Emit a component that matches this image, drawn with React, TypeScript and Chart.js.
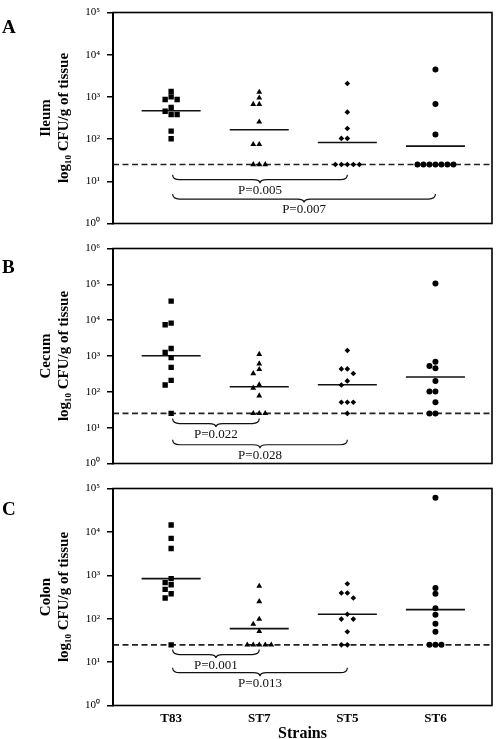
import React, { useEffect, useRef } from 'react';
import { Chart, registerables } from 'chart.js';

Chart.register(...registerables);

// ---------- data ----------
const strains = ['T83', 'ST7', 'ST5', 'ST6'];
const detectionLimit = 25;

// Panel A — Ileum (CFU/g)
const ileumT83 = [1340, 1000, 870, 870, 560, 457, 383, 383, 155, 102];
const ileumST7 = [1300, 950, 670, 670, 257, 75, 75, 25, 25, 25];
const ileumST5 = [2080, 435, 179, 104, 104, 25, 25, 25, 25, 25];
const ileumST6 = [4470, 680, 129, 25, 25, 25, 25, 25, 25, 25];
const ileumMedians = [470, 166, 83, 68];
const ileumPairs = [[0, 2], [0, 3]];
const ileumPValues = ['P=0.005', 'P=0.007'];
const ileumBraceLevels = [10.9, 3.8];

// Panel B — Cecum
const cecumT83 = [34000, 8300, 7450, 1620, 1260, 900, 480, 208, 155, 25];
const cecumST7 = [1120, 610, 425, 325, 158, 128, 78, 25, 25, 25];
const cecumST5 = [1420, 437, 437, 325, 202, 155, 51, 51, 51, 25];
const cecumST6 = [106000, 690, 530, 455, 202, 102, 102, 51, 25, 25];
const cecumMedians = [1020, 138, 158, 259];
const cecumPairs = [[0, 1], [0, 2]];
const cecumPValues = ['P=0.022', 'P=0.028'];
const cecumBraceLevels = [13.0, 3.34];

// Panel C — Colon
const colonT83 = [14400, 7100, 4150, 840, 680, 605, 475, 375, 300, 25];
const colonST7 = [565, 250, 98, 75, 51, 25, 25, 25, 25, 25];
const colonST5 = [640, 390, 390, 300, 127, 98, 98, 50, 25, 25];
const colonST6 = [61000, 510, 375, 173, 123, 76, 50, 25, 25, 25];
const colonMedians = [840, 59, 127, 162];
const colonPairs = [[0, 1], [0, 2]];
const colonPValues = ['P=0.001', 'P=0.013'];
const colonBraceLevels = [14.9, 5.7];

// ---------- styling ----------
const SERIF = "'Liberation Serif', 'Times New Roman', Times, serif";
const markerStyles = ['rect', 'triangle', 'rectRot', 'circle'];
const markerRadii = [3.8, 3.4, 2.8, 3.0];
const X_MIN = -0.66;
const X_MAX = 3.642;
const SLOT = 0.068;
const SUP = ['⁰', '¹', '²', '³', '⁴', '⁵', '⁶', '⁷', '⁸', '⁹'];

type PanelDef = {
  letter: string;
  organ: string;
  series: number[][];
  medians: number[];
  pairs: number[][];
  pvalues: string[];
  levels: number[];
  maxExp: number;
  top: number;
  height: number;
  padTop: number;
  padBottom: number;
  showX: boolean;
  dodgeThr: number;
  letterBaseline: number;
};

const panels: PanelDef[] = [
  {
    letter: 'A', organ: 'Ileum',
    series: [ileumT83, ileumST7, ileumST5, ileumST6],
    medians: ileumMedians, pairs: ileumPairs, pvalues: ileumPValues, levels: ileumBraceLevels,
    maxExp: 5, top: 0, height: 236, padTop: 6, padBottom: 9.3, showX: false, dodgeThr: 0.125,
    letterBaseline: 33.3,
  },
  {
    letter: 'B', organ: 'Cecum',
    series: [cecumT83, cecumST7, cecumST5, cecumST6],
    medians: cecumMedians, pairs: cecumPairs, pvalues: cecumPValues, levels: cecumBraceLevels,
    maxExp: 6, top: 236, height: 240, padTop: 9, padBottom: 9.3, showX: false, dodgeThr: 0.15,
    letterBaseline: 37,
  },
  {
    letter: 'C', organ: 'Colon',
    series: [colonT83, colonST7, colonST5, colonST6],
    medians: colonMedians, pairs: colonPairs, pvalues: colonPValues, levels: colonBraceLevels,
    maxExp: 5, top: 476, height: 263, padTop: 6, padBottom: 0, showX: true, dodgeThr: 0.125,
    letterBaseline: 39,
  },
];

// horizontal dodge so that points with nearly equal values sit side by side
function dodge(values: number[], thr: number): number[] {
  const order = values.map((_, i) => i).sort((a, b) => values[b] - values[a]);
  const slots = new Array(values.length).fill(0);
  const placed: { l: number; s: number }[] = [];
  const cand = [0, -1, 1, -2, 2, -3, 3, -4, 4, -5, 5];
  for (const i of order) {
    const l = Math.log10(values[i]);
    const s = cand.find((c) => !placed.some((q) => q.s === c && Math.abs(q.l - l) < thr));
    slots[i] = s ?? 0;
    placed.push({ l, s: slots[i] });
  }
  return slots;
}

function drawBrace(ctx: CanvasRenderingContext2D, x1: number, x2: number, y: number) {
  const xm = (x1 + x2) / 2;
  const r = 7;
  const h = 5;
  const tip = 3.5;
  ctx.beginPath();
  ctx.moveTo(x1, y - h);
  ctx.quadraticCurveTo(x1, y, x1 + r, y);
  ctx.lineTo(xm - r, y);
  ctx.quadraticCurveTo(xm, y, xm, y + tip);
  ctx.quadraticCurveTo(xm, y, xm + r, y);
  ctx.lineTo(x2 - r, y);
  ctx.quadraticCurveTo(x2, y, x2, y - h);
  ctx.stroke();
}

function makePlugin(p: PanelDef) {
  return {
    id: 'annot' + p.letter,
    afterDraw(chart: any) {
      const { ctx, chartArea: a, scales } = chart;
      const x = scales.x;
      const y = scales.y;
      ctx.save();
      ctx.strokeStyle = '#000';
      ctx.lineWidth = 1.6;
      ctx.strokeRect(a.left, a.top, a.right - a.left, a.bottom - a.top);

      ctx.lineWidth = 1.2;
      ctx.strokeStyle = '#111';
      ctx.fillStyle = '#111';
      p.pairs.forEach(([i, j], k) => {
        const x1 = x.getPixelForValue(i) + 1.5;
        const x2 = x.getPixelForValue(j);
        const yy = y.getPixelForValue(p.levels[k]);
        drawBrace(ctx, x1, x2, yy);
        ctx.font = `13px ${SERIF}`;
        ctx.textAlign = 'center';
        ctx.textBaseline = 'middle';
        ctx.fillText(p.pvalues[k], (x1 + x2) / 2, yy + 10.5);
      });

      ctx.fillStyle = '#000';
      ctx.font = `bold 19px ${SERIF}`;
      ctx.textAlign = 'left';
      ctx.textBaseline = 'alphabetic';
      ctx.fillText(p.letter, 2, p.letterBaseline);
      ctx.restore();
    },
  };
}

function buildConfig(p: PanelDef): any {
  const pointSets = p.series.map((vals, ci) => {
    const slots = dodge(vals, p.dodgeThr);
    return {
      type: 'scatter',
      label: strains[ci],
      data: vals.map((v, k) => ({ x: ci + slots[k] * SLOT, y: v })),
      pointStyle: markerStyles[ci],
      pointRadius: markerRadii[ci],
      pointBackgroundColor: '#000',
      pointBorderColor: '#000',
      pointBorderWidth: 0,
      order: 0,
    };
  });
  const medianSet = {
    type: 'line',
    label: 'median',
    data: p.medians.flatMap((m, i) => [
      { x: i - 0.335, y: m },
      { x: i + 0.335, y: m },
      { x: i + 0.5, y: null },
    ]),
    borderColor: '#111',
    borderWidth: 1.6,
    pointRadius: 0,
    spanGaps: false,
    order: 1,
  };
  const lodSet = {
    type: 'line',
    label: 'limit',
    data: [
      { x: X_MIN, y: detectionLimit },
      { x: X_MAX, y: detectionLimit },
    ],
    borderColor: '#222',
    borderWidth: 1.6,
    borderDash: [6, 3.5],
    pointRadius: 0,
    order: 2,
  };
  const exps = Array.from({ length: p.maxExp + 1 }, (_, i) => i);

  const xScale: any = {
    type: 'linear',
    min: X_MIN,
    max: X_MAX,
    display: p.showX,
    afterBuildTicks: (s: any) => {
      s.ticks = strains.map((_, i) => ({ value: i }));
    },
    ticks: {
      autoSkip: false,
      maxRotation: 0,
      padding: 5,
      color: '#000',
      font: { family: SERIF, size: 13, weight: 'bold', lineHeight: 1.2 },
      callback: (v: number) => strains[Math.round(v)] ?? '',
    },
    grid: { display: false, drawOnChartArea: false, drawTicks: false },
    border: { display: false },
    title: {
      display: true,
      text: 'Strains',
      color: '#000',
      font: { family: SERIF, size: 16, weight: 'bold', lineHeight: 1 },
      padding: { top: 0, bottom: -2.5 },
    },
  };
  if (p.showX) {
    xScale.afterFit = (s: any) => {
      s.height = 33.5;
    };
  }

  return {
    type: 'scatter',
    data: { datasets: [...pointSets, medianSet, lodSet] },
    options: {
      animation: false,
      responsive: false,
      events: [],
      layout: { padding: { left: 33, right: 3, top: p.padTop, bottom: p.padBottom } },
      plugins: { legend: { display: false }, tooltip: { enabled: false } },
      scales: {
        x: xScale,
        y: {
          type: 'logarithmic',
          min: 1,
          max: Math.pow(10, p.maxExp),
          afterBuildTicks: (s: any) => {
            s.ticks = exps.map((e) => ({ value: Math.pow(10, e) }));
          },
          afterFit: (s: any) => {
            s.width = 80;
          },
          ticks: {
            autoSkip: false,
            padding: 7,
            color: '#000',
            font: { family: SERIF, size: 11, lineHeight: 1 },
            callback: (v: number) => '10' + (SUP[Math.round(Math.log10(v))] ?? ''),
          },
          grid: {
            drawOnChartArea: false,
            drawTicks: true,
            tickLength: 6,
            color: '#000',
            lineWidth: 1.5,
          },
          border: { display: true, color: '#000', width: 2 },
          title: {
            display: true,
            text: [p.organ, 'log₁₀ CFU/g of tissue'],
            color: '#000',
            font: { family: SERIF, size: 15, weight: 'bold', lineHeight: 1.2 },
            padding: { top: 4, bottom: 4 },
          },
        },
      },
    },
    plugins: [makePlugin(p)],
  };
}

function Panel({ p }: { p: PanelDef }) {
  const ref = useRef<HTMLCanvasElement>(null);
  useEffect(() => {
    if (!ref.current) return;
    const chart = new Chart(ref.current, buildConfig(p));
    return () => chart.destroy();
  }, [p]);
  return (
    <canvas
      ref={ref}
      width={496}
      height={p.height}
      style={{ position: 'absolute', left: 0, top: p.top, width: 496, height: p.height, display: 'block' }}
    />
  );
}

export default function App() {
  return (
    <div
      style={{
        position: 'absolute',
        left: 0,
        top: 0,
        width: 496,
        height: 739,
        background: '#fff',
        overflow: 'hidden',
      }}
    >
      {panels.map((p) => (
        <Panel key={p.letter} p={p} />
      ))}
    </div>
  );
}
